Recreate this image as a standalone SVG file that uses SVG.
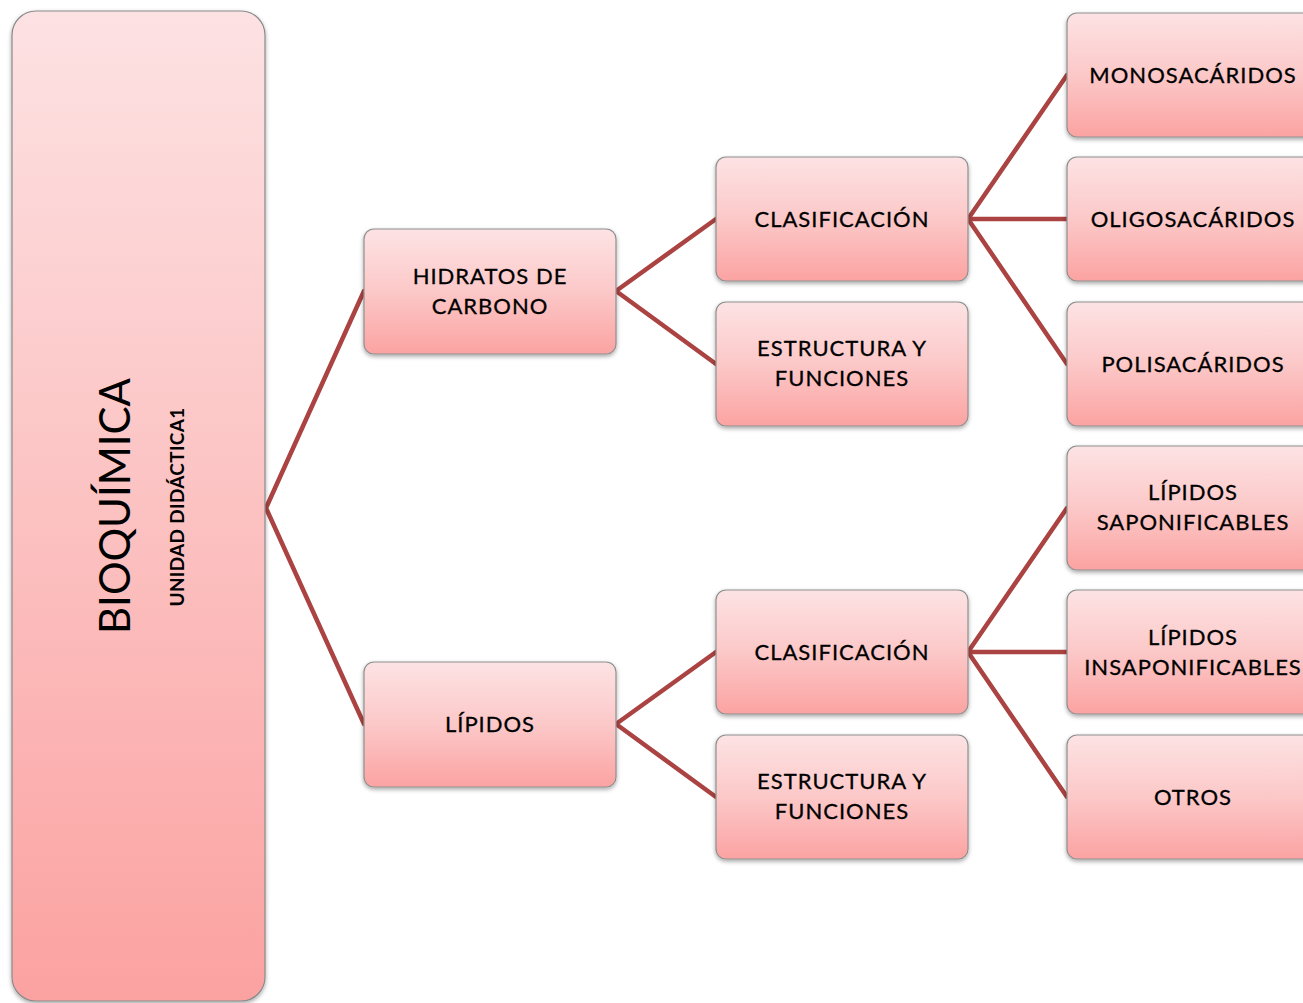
<svg xmlns="http://www.w3.org/2000/svg" width="1303" height="1003" viewBox="0 0 1303 1003">
  <defs>
    <linearGradient id="boxFill" x1="0" y1="0" x2="0" y2="1">
      <stop offset="0" stop-color="#fde3e4"/>
      <stop offset="0.5" stop-color="#fcc8c8"/>
      <stop offset="1" stop-color="#fba3a2"/>
    </linearGradient>
    <linearGradient id="mainFill" x1="0" y1="0" x2="0" y2="1">
      <stop offset="0" stop-color="#fde2e3"/>
      <stop offset="1" stop-color="#fba2a1"/>
    </linearGradient>
    <filter id="shadow" x="-10%" y="-10%" width="120%" height="130%">
      <feDropShadow dx="0" dy="2" stdDeviation="2" flood-color="#000" flood-opacity="0.35"/>
    </filter>
    <style>
      .box { fill: url(#boxFill); stroke: #8f8f8f; stroke-width: 1.2; filter: url(#shadow); }
      .main { fill: url(#mainFill); stroke: #8a8a8a; stroke-width: 1.2; filter: url(#shadow); }
      .lbl { font-family: Lato, "Open Sans", "Liberation Sans", sans-serif; font-size: 22px; fill: #000; text-anchor: middle; letter-spacing: 1px; stroke: #000; stroke-width: 0.3; }
      .conn { stroke: #aa4341; stroke-width: 4.5; fill: none; stroke-linecap: round; }
    </style>
  </defs>

  <!-- connectors -->
  <g id="connectors">
    <path class="conn" d="M266 508 L364 291 M266 508 L364 724"/>
    <path class="conn" d="M616 291 L716 219 M616 291 L716 364"/>
    <path class="conn" d="M616 724 L716 652 M616 724 L716 797"/>
    <path class="conn" d="M968 219 L1067 75 M968 219 L1067 219 M968 219 L1067 364"/>
    <path class="conn" d="M968 652 L1067 508 M968 652 L1067 652 M968 652 L1067 797"/>
  </g>

  <!-- root -->
  <g id="bioquimica">
    <rect class="main" x="12" y="11" width="253" height="990" rx="24"/>
    <text transform="translate(130 506) rotate(-90)" font-family="Lato, 'Open Sans', 'Liberation Sans', sans-serif" font-size="42" fill="#000" text-anchor="middle">BIOQUÍMICA</text>
    <text transform="translate(184 507) rotate(-90)" font-family="Lato, 'Open Sans', 'Liberation Sans', sans-serif" font-size="19" font-weight="bold" fill="#000" text-anchor="middle" letter-spacing="0.3">UNIDAD DIDÁCTICA1</text>
  </g>

  <!-- level 1 -->
  <g id="hidratos">
    <rect class="box" x="364" y="229" width="252" height="125" rx="10"/>
    <text class="lbl" x="490" y="284">HIDRATOS DE</text>
    <text class="lbl" x="490" y="314">CARBONO</text>
  </g>
  <g id="lipidos">
    <rect class="box" x="364" y="662" width="252" height="125" rx="10"/>
    <text class="lbl" x="490" y="732">LÍPIDOS</text>
  </g>

  <!-- level 2 -->
  <g id="clasificacion-hc">
    <rect class="box" x="716" y="157" width="252" height="124" rx="10"/>
    <text class="lbl" x="842" y="227">CLASIFICACIÓN</text>
  </g>
  <g id="estructura-hc">
    <rect class="box" x="716" y="302" width="252" height="124" rx="10"/>
    <text class="lbl" x="842" y="356">ESTRUCTURA Y</text>
    <text class="lbl" x="842" y="386">FUNCIONES</text>
  </g>
  <g id="clasificacion-lip">
    <rect class="box" x="716" y="590" width="252" height="124" rx="10"/>
    <text class="lbl" x="842" y="660">CLASIFICACIÓN</text>
  </g>
  <g id="estructura-lip">
    <rect class="box" x="716" y="735" width="252" height="124" rx="10"/>
    <text class="lbl" x="842" y="789">ESTRUCTURA Y</text>
    <text class="lbl" x="842" y="819">FUNCIONES</text>
  </g>

  <!-- level 3 -->
  <g id="monosacaridos">
    <rect class="box" x="1067" y="13" width="252" height="124" rx="10"/>
    <text class="lbl" x="1193" y="83">MONOSACÁRIDOS</text>
  </g>
  <g id="oligosacaridos">
    <rect class="box" x="1067" y="157" width="252" height="124" rx="10"/>
    <text class="lbl" x="1193" y="227">OLIGOSACÁRIDOS</text>
  </g>
  <g id="polisacaridos">
    <rect class="box" x="1067" y="302" width="252" height="124" rx="10"/>
    <text class="lbl" x="1193" y="372">POLISACÁRIDOS</text>
  </g>
  <g id="saponificables">
    <rect class="box" x="1067" y="446" width="252" height="124" rx="10"/>
    <text class="lbl" x="1193" y="500">LÍPIDOS</text>
    <text class="lbl" x="1193" y="530">SAPONIFICABLES</text>
  </g>
  <g id="insaponificables">
    <rect class="box" x="1067" y="590" width="252" height="124" rx="10"/>
    <text class="lbl" x="1193" y="645">LÍPIDOS</text>
    <text class="lbl" x="1193" y="675">INSAPONIFICABLES</text>
  </g>
  <g id="otros">
    <rect class="box" x="1067" y="735" width="252" height="124" rx="10"/>
    <text class="lbl" x="1193" y="805">OTROS</text>
  </g>
</svg>
